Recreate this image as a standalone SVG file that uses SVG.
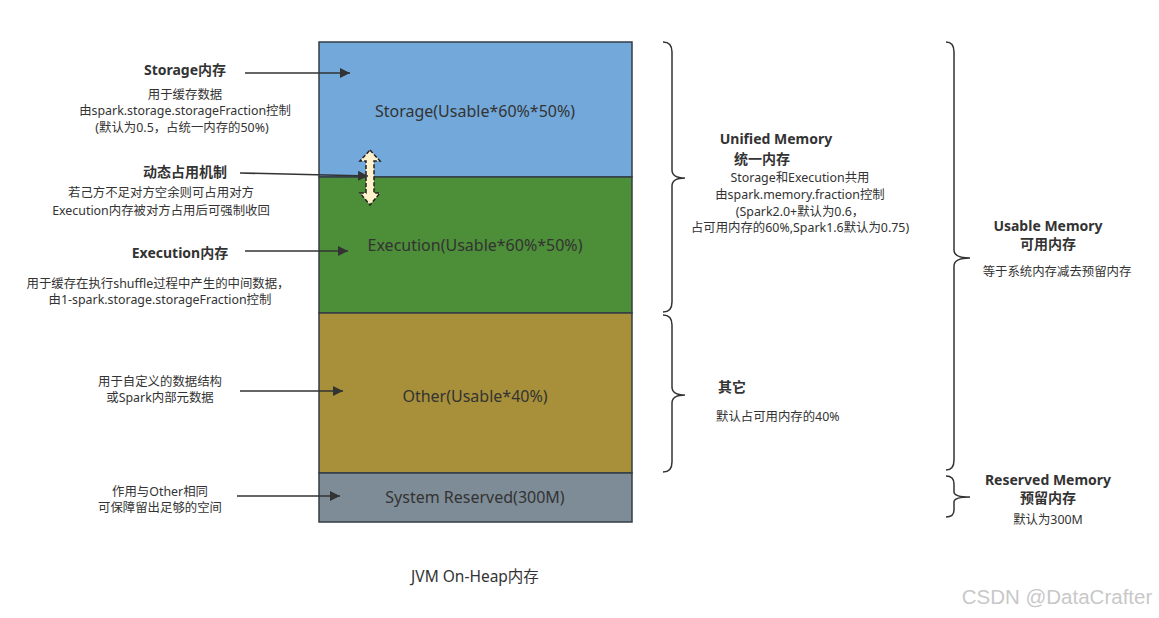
<svg xmlns="http://www.w3.org/2000/svg" width="1159" height="618" viewBox="0 0 1159 618">
<defs>
<marker id="ah" viewBox="0 0 10 10" refX="10" refY="5" markerWidth="10" markerHeight="10" markerUnits="userSpaceOnUse" orient="auto"><path d="M0,0 L10,5 L0,10 z" fill="#333"/></marker>
<style>
text{font-family:"Noto Sans","Noto Sans CJK SC",sans-serif;fill:#333;}
.blk{stroke:#333c46;stroke-width:1.5;}
.lbl{font-size:16px;text-anchor:middle;}
.h{font-size:14px;font-weight:bold;text-anchor:middle;}
.d{font-size:12.4px;text-anchor:middle;}
.dl{font-size:12.4px;}
.con{stroke:#333;stroke-width:1.5;fill:none;marker-end:url(#ah);}
.br{stroke:#333;stroke-width:1.5;fill:none;}
</style>
</defs>
<rect width="1159" height="618" fill="#fff"/>
<g id="storage"><rect class="blk" x="319" y="42" width="313" height="135" fill="#72a9da"/><text class="lbl" x="475" y="117">Storage(Usable*60%*50%)</text></g>
<g id="execution"><rect class="blk" x="319" y="177" width="313" height="136" fill="#4d8e38"/><text class="lbl" x="475" y="251">Execution(Usable*60%*50%)</text></g>
<g id="other"><rect class="blk" x="319" y="313" width="313" height="160" fill="#a8903a"/><text class="lbl" x="475" y="402">Other(Usable*40%)</text></g>
<g id="reserved"><rect class="blk" x="319" y="473" width="313" height="49" fill="#7e8c97"/><text class="lbl" x="475" y="503">System Reserved(300M)</text></g>
<g id="jvm-title"><text x="475" y="582" style="font-size:15.5px;text-anchor:middle">JVM On-Heap内存</text></g>
<g id="dyn-arrow"><path d="M370,150 L380,161 L374,161 L374,193 L380,193 L370,205 L360,193 L366,193 L366,161 L360,161 Z" fill="#fff2cc" stroke="#222" stroke-width="1.5" stroke-dasharray="4,2"/></g>
<g id="storage-note"><text class="h" x="185" y="75">Storage内存</text><text class="d" x="185" y="99">用于缓存数据</text><text class="d" x="185" y="115">由spark.storage.storageFraction控制</text><text class="d" x="182" y="132">(默认为0.5，占统一内存的50%)</text></g>
<g id="dyn-note"><text class="h" x="185" y="177">动态占用机制</text><text class="d" x="161" y="197">若己方不足对方空余则可占用对方</text><text class="d" x="161" y="215">Execution内存被对方占用后可强制收回</text></g>
<g id="exec-note"><text class="h" x="180" y="258">Execution内存</text><text class="d" x="158" y="288">用于缓存在执行shuffle过程中产生的中间数据，</text><text class="d" x="160" y="304">由1-spark.storage.storageFraction控制</text></g>
<g id="other-note"><text class="d" x="160" y="386">用于自定义的数据结构</text><text class="d" x="160" y="402">或Spark内部元数据</text></g>
<g id="res-note"><text class="d" x="160" y="496">作用与Other相同</text><text class="d" x="160" y="512">可保障留出足够的空间</text></g>
<g id="connectors">
<line class="con" x1="245" y1="73" x2="350" y2="73"/>
<line class="con" x1="240" y1="173" x2="368" y2="176"/>
<line class="con" x1="245" y1="251" x2="348" y2="251"/>
<line class="con" x1="240" y1="391" x2="343" y2="391"/>
<line class="con" x1="237" y1="496" x2="340" y2="496"/>
</g>
<g id="unified-brace"><path class="br" d="M663,42 Q672,42 672,52 L672,170 Q672,178 685,178 Q672,178 672,186 L672,302 Q672,312 663,312"/></g>
<g id="other-brace"><path class="br" d="M663,315 Q672,315 672,325 L672,387 Q672,395 685,395 Q672,395 672,403 L672,462 Q672,472 663,472"/></g>
<g id="usable-brace"><path class="br" d="M946,42 Q954,42 954,52 L954,250 Q954,258 970,258 Q954,258 954,266 L954,460 Q954,470 946,470"/></g>
<g id="reserved-brace"><path class="br" d="M946,476 Q954,476 954,484 L954,492 Q954,497 970,497 Q954,497 954,502 L954,510 Q954,517 946,517"/></g>
<g id="unified-note"><text class="h" x="776" y="144">Unified Memory</text><text class="h" x="762" y="164">统一内存</text><text class="d" x="800" y="182">Storage和Execution共用</text><text class="d" x="800" y="199">由spark.memory.fraction控制</text><text class="d" x="800" y="216">(Spark2.0+默认为0.6，</text><text class="d" x="800" y="232">占可用内存的60%,Spark1.6默认为0.75)</text></g>
<g id="other-label"><text class="h" x="718" y="392" style="text-anchor:start">其它</text><text class="dl" x="716" y="421">默认占可用内存的40%</text></g>
<g id="usable-note"><text class="h" x="1048" y="231">Usable Memory</text><text class="h" x="1048" y="249">可用内存</text><text class="d" x="1057" y="276">等于系统内存减去预留内存</text></g>
<g id="reserved-note"><text class="h" x="1048" y="485">Reserved Memory</text><text class="h" x="1048" y="503">预留内存</text><text class="d" x="1048" y="524">默认为300M</text></g>
<text x="1057" y="604" style="font-family:'Liberation Sans',Arial,sans-serif;font-size:20.5px;fill:#c8c8c8;text-anchor:middle">CSDN @DataCrafter</text>
</svg>
